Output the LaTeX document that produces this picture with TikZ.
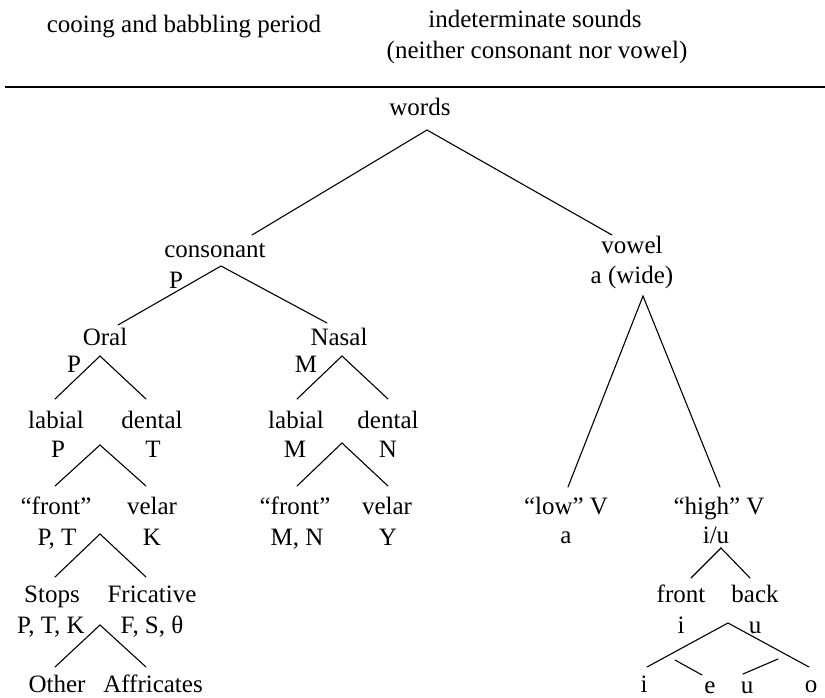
\documentclass[tikz,border=0pt]{standalone}
\usepackage{fontspec}
\setmainfont{Liberation Serif}
\begin{document}
\begin{tikzpicture}[x=1pt,y=-1pt,
  lbl/.style={anchor=base, inner sep=0pt, font=\fontsize{25}{29}\selectfont},
  edge/.style={line width=1.1pt, line cap=round},
  rule/.style={line width=1.4pt}]
\useasboundingbox (0,0) rectangle (825,697);
% header
\node[lbl] (cooing) at (184,32) {cooing and babbling period};
\node[lbl] (indet) at (535,27) {indeterminate sounds};
\node[lbl] (neither) at (537,58) {(neither consonant nor vowel)};
\coordinate (ruleL) at (5,87);
\coordinate (ruleR) at (825,87);
\draw[rule] (ruleL) -- (ruleR);
% root
\node[lbl] (words) at (420,115) {words};
\coordinate (wA) at (427,130);
\coordinate (wL) at (252,235);
\coordinate (wR) at (612,235);
\draw[edge] (wL) -- (wA) -- (wR);
% consonant branch
\node[lbl] (cons) at (215,257) {consonant};
\node[lbl] (consP) at (176,288) {P};
\coordinate (cA) at (221,266);
\coordinate (cL) at (118,325);
\coordinate (cR) at (327,323);
\draw[edge] (cL) -- (cA) -- (cR);
\node[lbl] (oral) at (105,345) {Oral};
\node[lbl] (oralP) at (74,372) {P};
\node[lbl] (nasal) at (339,345) {Nasal};
\node[lbl] (nasalM) at (306,372) {M};
\coordinate (oA) at (100,356);
\coordinate (oL) at (55,399);
\coordinate (oR) at (146,399);
\draw[edge] (oL) -- (oA) -- (oR);
\coordinate (nA) at (342,356);
\coordinate (nL) at (297,399);
\coordinate (nR) at (388,399);
\draw[edge] (nL) -- (nA) -- (nR);
% oral subtree
\node[lbl] (olab) at (56,428) {labial};
\node[lbl] (olabP) at (58,457) {P};
\node[lbl] (oden) at (152,428) {dental};
\node[lbl] (odenT) at (153,457) {T};
\coordinate (olA) at (100,445);
\coordinate (olL) at (55,486);
\coordinate (olR) at (146,486);
\draw[edge] (olL) -- (olA) -- (olR);
\node[lbl] (ofront) at (56,514) {“front”};
\node[lbl] (ofrontPT) at (57,545) {P, T};
\node[lbl] (ovel) at (152,514) {velar};
\node[lbl] (ovelK) at (152,545) {K};
\coordinate (fA) at (100,534);
\coordinate (fL) at (55,577);
\coordinate (fR) at (146,577);
\draw[edge] (fL) -- (fA) -- (fR);
\node[lbl] (stops) at (52,602) {Stops};
\node[lbl] (stopsPTK) at (51,633) {P, T, K};
\node[lbl] (fric) at (152,602) {Fricative};
\node[lbl] (fricFS) at (152,633) {F, S, θ};
\coordinate (sA) at (100,625);
\coordinate (sL) at (55,667);
\coordinate (sR) at (146,667);
\draw[edge] (sL) -- (sA) -- (sR);
\node[lbl] (other) at (57,692) {Other};
\node[lbl] (affr) at (153,692) {Affricates};
% nasal subtree
\node[lbl] (nlab) at (296,428) {labial};
\node[lbl] (nlabM) at (295,457) {M};
\node[lbl] (nden) at (388,428) {dental};
\node[lbl] (ndenN) at (388,457) {N};
\coordinate (nlA) at (342,443);
\coordinate (nlL) at (297,486);
\coordinate (nlR) at (388,486);
\draw[edge] (nlL) -- (nlA) -- (nlR);
\node[lbl] (nfront) at (295,514) {“front”};
\node[lbl] (nfrontMN) at (297,545) {M, N};
\node[lbl] (nvel) at (387,514) {velar};
\node[lbl] (nvelY) at (388,545) {Y};
% vowel branch
\node[lbl] (vowel) at (632,253) {vowel};
\node[lbl] (vowela) at (632,283) {a (wide)};
\coordinate (vA) at (643,296);
\coordinate (vL) at (568,487);
\coordinate (vR) at (720,487);
\draw[edge] (vL) -- (vA) -- (vR);
\node[lbl] (low) at (566,514) {“low” V};
\node[lbl] (lowa) at (566,543) {a};
\node[lbl] (high) at (719,514) {“high” V};
\node[lbl] (highiu) at (716,543) {i/u};
\coordinate (hA) at (721,548);
\coordinate (hL) at (691,578);
\coordinate (hR) at (750,578);
\draw[edge] (hL) -- (hA) -- (hR);
\node[lbl] (front) at (681,602) {front};
\node[lbl] (fronti) at (681,633) {i};
\node[lbl] (back) at (755,602) {back};
\node[lbl] (backu) at (755,633) {u};
\coordinate (bA) at (728,623);
\coordinate (bL) at (647,667);
\coordinate (bR) at (809,667);
\draw[edge] (bL) -- (bA) -- (bR);
\coordinate (eS) at (675,660);
\coordinate (eE) at (702,675);
\draw[edge] (eS) -- (eE);
\coordinate (uS) at (743,674);
\coordinate (uE) at (778,659);
\draw[edge] (uS) -- (uE);
\node[lbl] (vi) at (644,692) {i};
\node[lbl] (ve) at (710,693) {e};
\node[lbl] (vu) at (747,693) {u};
\node[lbl] (vo) at (811,692) {o};
\end{tikzpicture}
\end{document}
